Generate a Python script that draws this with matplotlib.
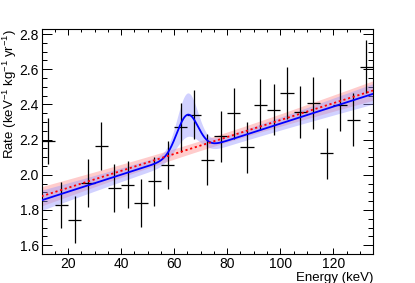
import numpy as np
import matplotlib
matplotlib.use("Agg")
import matplotlib.pyplot as plt
from matplotlib.ticker import MultipleLocator

plt.rcParams['font.family'] = ['Liberation Sans', 'DejaVu Sans']
plt.rcParams['mathtext.fontset'] = 'custom'
plt.rcParams['mathtext.rm'] = 'Liberation Sans'
plt.rcParams['mathtext.it'] = 'Liberation Sans:italic'
plt.rcParams['mathtext.default'] = 'regular'

# Data points (bin centers, rates, errors)
energy = [12.5, 17.5, 22.5, 27.5, 32.5, 37.5, 42.5, 47.5, 52.5, 57.5, 62.5, 67.5,
          72.5, 77.5, 82.5, 87.5, 92.5, 97.5, 102.5, 107.5, 112.5, 117.5, 122.5, 127.5, 132.5]
rate = [2.19, 1.83, 1.745, 1.953, 2.163, 1.925, 1.944, 1.84, 1.962, 2.056, 2.269, 2.342,
        2.085, 2.22, 2.351, 2.156, 2.398, 2.37, 2.464, 2.357, 2.407, 2.122, 2.398, 2.314, 2.614]
rate_err = [0.13, 0.13, 0.135, 0.135, 0.135, 0.135, 0.135, 0.138, 0.138, 0.138, 0.138, 0.14,
            0.145, 0.145, 0.145, 0.145, 0.145, 0.146, 0.146, 0.148, 0.148, 0.146, 0.148, 0.148, 0.15]
bin_halfwidth = 2.5

# Background-only fit (red): rate at E=10 and E=135
bkg_only_ends = [1.878, 2.479]
# Signal+background fit (blue): linear bkg ends + gaussian peak
sb_bkg_ends = [1.855, 2.46]
peak_mean = 65.0
peak_amp = 0.22
peak_sigma = 4.0
peak_amp_err = 0.12
# band uncertainty parameters
band_center_err = 0.028
band_slope_err = 0.00076
band_pivot = 72.0

E_range = [10, 135]

E = np.linspace(E_range[0], E_range[1], 600)

def lin(ends, x):
    return ends[0] + (ends[1] - ends[0]) * (x - E_range[0]) / (E_range[1] - E_range[0])

bkg_err = np.sqrt(band_center_err**2 + (band_slope_err * (E - band_pivot))**2)
red = lin(bkg_only_ends, E)
gauss = np.exp(-0.5 * ((E - peak_mean) / peak_sigma) ** 2)
blue = lin(sb_bkg_ends, E) + peak_amp * gauss
blue_err = np.sqrt((bkg_err * 1.05)**2 + (peak_amp_err * gauss)**2)

fig = plt.figure(figsize=(4.15, 2.83), dpi=100)
ax = fig.add_axes([0.1, 0.1025, 0.799, 0.796])

ax.fill_between(E, red - bkg_err, red + bkg_err, color=(1.0, 0.80, 0.80), lw=0, zorder=1)
ax.fill_between(E, blue - blue_err, blue + blue_err, color=(0.6, 0.6, 1.0), alpha=0.45, lw=0, zorder=2)

ax.errorbar(energy, rate, xerr=bin_halfwidth, yerr=rate_err, fmt='none',
            ecolor='black', elinewidth=0.9, capsize=0, zorder=3)

ax.plot(E, blue, color='#0000ff', lw=1.3, zorder=4)
ax.plot(E, red, color='#ff0000', lw=1.3, ls=(0, (1.2, 1.5)), zorder=5)

ax.set_xlim(E_range)
ax.set_ylim(1.55, 2.83)

ax.xaxis.set_major_locator(MultipleLocator(20))
ax.xaxis.set_minor_locator(MultipleLocator(5))
ax.yaxis.set_major_locator(MultipleLocator(0.2))
ax.yaxis.set_minor_locator(MultipleLocator(0.05))
ax.yaxis.set_major_formatter(matplotlib.ticker.FormatStrFormatter('%.1f'))

ax.tick_params(axis='x', which='major', direction='in', length=4.3, width=0.72, top=True, labelsize=10, pad=2)
ax.tick_params(axis='x', which='minor', direction='in', length=2.2, width=0.72, top=True)
ax.tick_params(axis='y', which='major', direction='in', length=7.2, width=0.72, right=True, labelsize=10, pad=2)
ax.tick_params(axis='y', which='minor', direction='in', length=3.6, width=0.72, right=True)
for s in ax.spines.values():
    s.set_linewidth(0.8)

ax.set_xlabel('Energy (keV)', fontsize=9.5, ha='right')
ax.xaxis.set_label_coords(1.0, -0.108)
ax.xaxis.label.set_va('center')
ax.set_ylabel('Rate (keV$^{-1}$ kg$^{-1}$ yr$^{-1}$)', fontsize=9.5, ha='right')
ax.yaxis.set_label_coords(-0.095, 1.0)
ax.yaxis.label.set_va('center')

fig.savefig('out.png', dpi=100)
